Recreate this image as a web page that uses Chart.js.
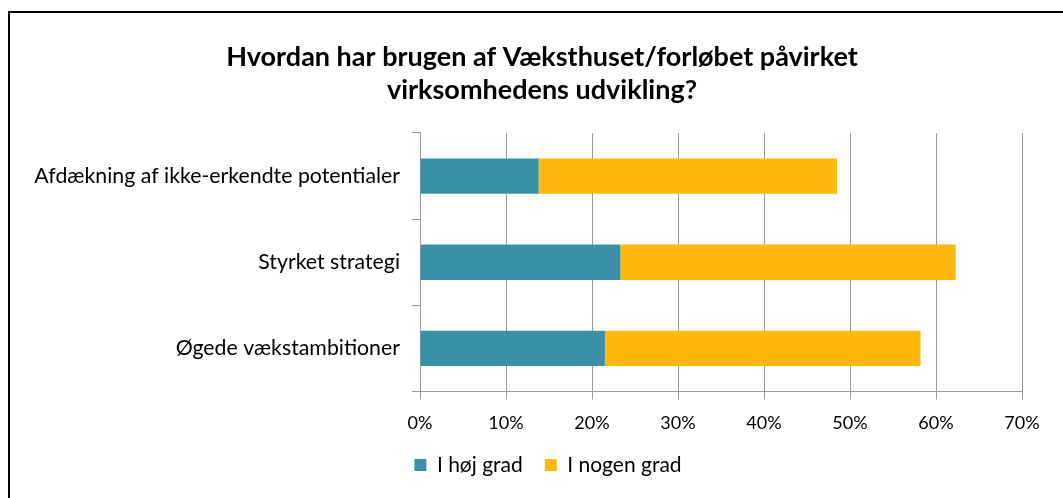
<!DOCTYPE html>
<html>
<head>
<meta charset="utf-8">
<script src="https://cdn.jsdelivr.net/npm/chart.js@4/dist/chart.umd.min.js"></script>
<style>
  html, body { margin: 0; padding: 0; background: #fff; overflow: hidden; }
  #wrap { position: relative; width: 1063px; height: 498px; }
  #frame { position: absolute; left: 8px; top: 11px; width: 1200px; height: 700px; border: 2px solid #000; box-sizing: border-box; }
  canvas { position: absolute; left: 0; top: 0; }
</style>
</head>
<body>
<div id="wrap">
  <div id="frame"></div>
  <canvas id="c" width="1063" height="498"></canvas>
</div>
<script>
const titleLines = ['Hvordan har brugen af Væksthuset/forløbet påvirket', 'virksomhedens udvikling?'];
const categories = ['Afdækning af ikke-erkendte potentialer', 'Styrket strategi', 'Øgede vækstambitioner'];
const seriesNames = ['I høj grad', 'I nogen grad'];
const iHoejGrad = [13.8, 23.3, 21.5];
const iNogenGrad = [34.7, 39.0, 36.7];
const xMin = 0, xMax = 70, xStep = 10;

const FONT = 'Lato, "Open Sans", sans-serif';
const GRID = '#9a9a9a';

// centre title and legend over the frame (not over the full canvas width)
const centreBlocks = {
  id: 'centreBlocks',
  afterLayout(chart) {
    if (chart.titleBlock) { chart.titleBlock.left = 62; chart.titleBlock.right = 1022; }
    if (chart.legend) { chart.legend.left = 68; chart.legend.right = 1028; }
  }
};

new Chart(document.getElementById('c'), {
  type: 'bar',
  data: {
    labels: categories,
    datasets: [
      { label: seriesNames[0], data: iHoejGrad, backgroundColor: '#3A91A6', borderWidth: 0 },
      { label: seriesNames[1], data: iNogenGrad, backgroundColor: '#FFB80C', borderWidth: 0 }
    ]
  },
  plugins: [centreBlocks],
  options: {
    indexAxis: 'y',
    responsive: false,
    animation: false,
    events: [],
    layout: { padding: { left: 10, right: 41, top: 0, bottom: 12.5 } },
    datasets: { bar: { categoryPercentage: 1, barPercentage: 0.41 } },
    scales: {
      x: {
        stacked: true,
        min: xMin,
        max: xMax,
        grid: { color: GRID, lineWidth: 1, tickLength: 8, drawTicks: true },
        border: { color: GRID, width: 1 },
        ticks: { stepSize: xStep, color: '#000', font: { family: FONT, size: 18 }, padding: 13, callback: v => v + '%', maxRotation: 0, autoSkip: false },
        afterFit: s => { s.height = 41; }
      },
      y: {
        stacked: true,
        grid: { drawOnChartArea: false, drawTicks: true, tickLength: 8, color: GRID, offset: true },
        border: { color: GRID, width: 1 },
        ticks: { color: '#000', font: { family: FONT, size: 21.3 }, padding: 12 },
        afterFit: s => { s.width = 410; }
      }
    },
    plugins: {
      title: {
        display: true,
        text: titleLines,
        color: '#000',
        font: { family: FONT, size: 27, weight: 'bold', lineHeight: 1.222 },
        padding: { top: 40.5, bottom: 26.5 }
      },
      legend: {
        position: 'bottom',
        labels: { color: '#000', font: { family: FONT, size: 21 }, boxWidth: 12, boxHeight: 12, padding: 22 }
      },
      tooltip: { enabled: false }
    }
  }
});
</script>
</body>
</html>
